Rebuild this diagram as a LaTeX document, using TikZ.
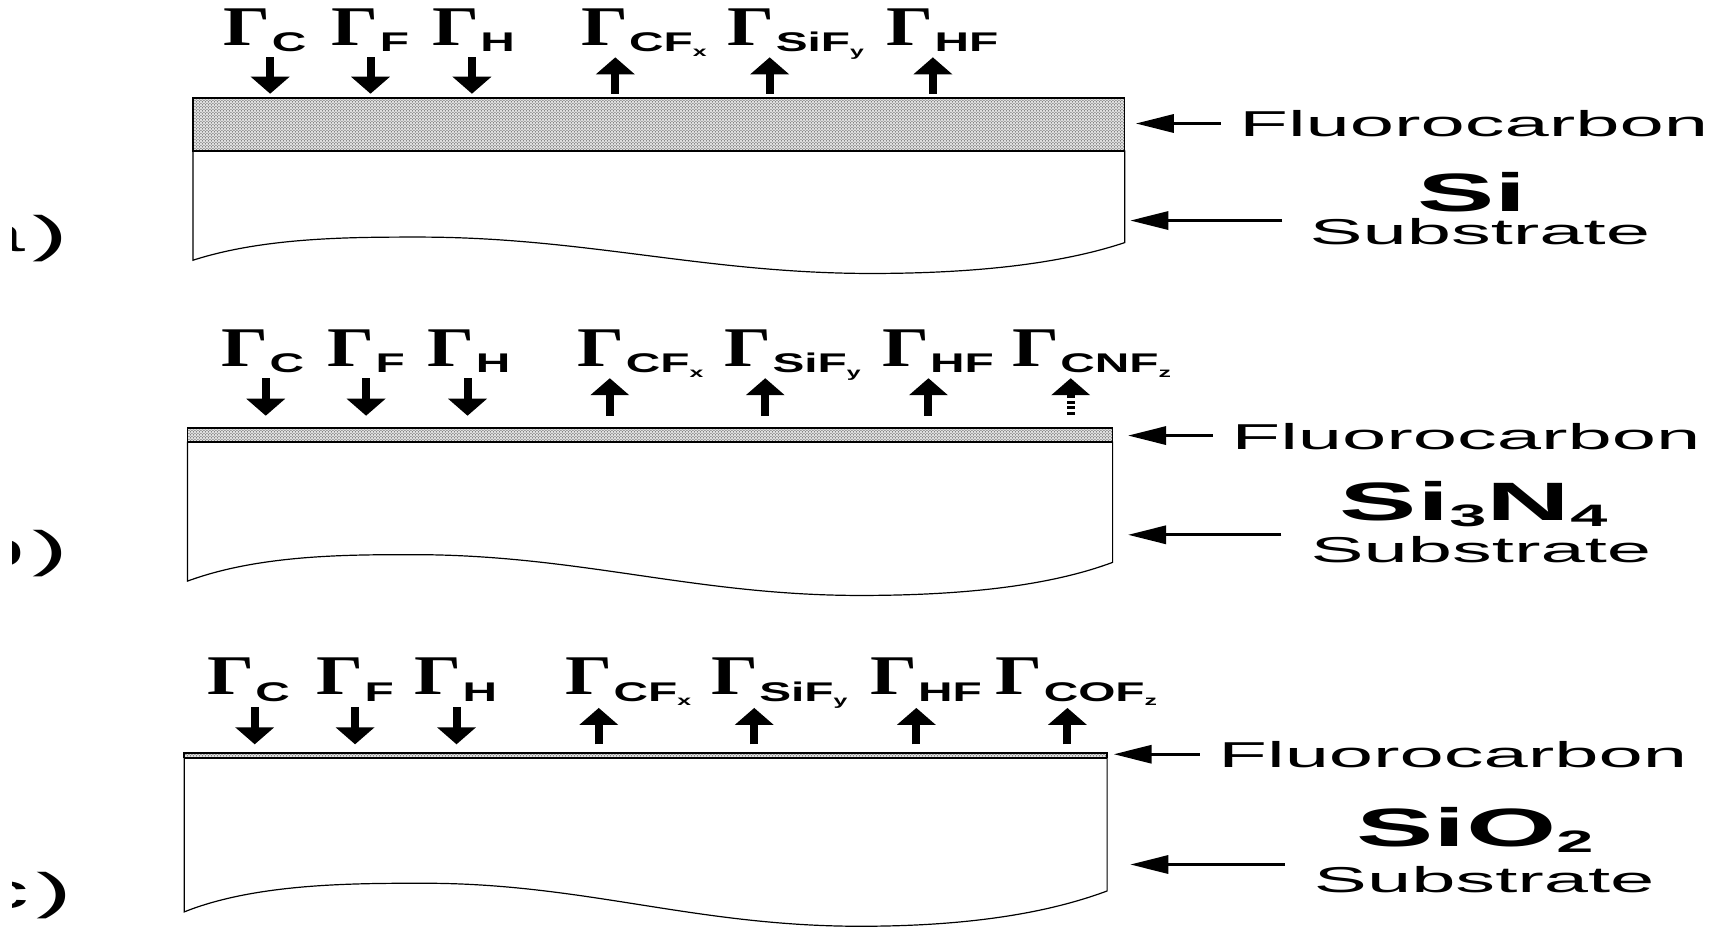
\documentclass[tikz,border=0pt]{standalone}
\usepackage{fontspec}
\setmainfont{Liberation Sans}
\newfontfamily\gamfont{Liberation Serif}
\usetikzlibrary{arrows.meta,patterns}
\newcommand\wide[1]{\scalebox{2.15}[1]{#1}}
\newcommand\fs[1]{\fontsize{#1}{#1}\selectfont}
\newcommand\flux[2]{\scalebox{1.32}[1]{\gamfont\bfseries\fs{56}Γ}\kern1pt\scalebox{1.77}[1]{\bfseries\fs{27}\raisebox{-6.6pt}{#1}\raisebox{-11pt}{\fs{14}#2}}}
\newcommand\plain[1]{\scalebox{2.21}[1]{\fs{36}#1}}
\newcommand\mat[1]{\wide{\bfseries\fs{54}#1}}
\newcommand\low[1]{\raisebox{-6pt}{\fs{31}#1}}
\newcommand\plet[1]{\wide{\fs{50}#1\kern3.4pt)}}
\tikzset{
 lbl/.style={inner sep=0pt,outer sep=0pt,anchor=base west},
 lblc/.style={inner sep=0pt,outer sep=0pt,anchor=base},
 vflux/.style={line width=8pt,-{Triangle[length=17pt,width=38pt]}},
 hflux/.style={line width=3.2pt,-{Triangle[length=38pt,width=18pt]}},
 vdash/.style={vflux,dash pattern=on 3pt off 2.5pt},
 film/.style={draw=black,line width=1.4pt,preaction={fill=black!12},pattern=crosshatch dots,pattern color=black!85},
 body/.style={draw=black,line width=1.2pt,fill=white}
}
\begin{document}
\begin{tikzpicture}[x=1.1027pt,y=-1.1027pt]
\useasboundingbox (0,0) rectangle (1568,842);
% panel letters (cut off at the picture's left side in the reference)
\begin{scope}
\clip (11,150) rectangle (100,842);
\node[inner sep=0pt,anchor=base east] (pa) at (62,228) {\plet{a}};
\node[inner sep=0pt,anchor=base east] (pb) at (62,514) {\plet{b}};
\node[inner sep=0pt,anchor=base east] (pc) at (66,824) {\plet{c}};
\end{scope}
% --- panel a
\path[body] (175,137) -- (175,236) .. controls (240,215) and (320,215) .. (380,215) .. controls (530,215) and (640,248) .. (790,248) .. controls (880,248) and (960,240) .. (1020,220) -- (1020,137) -- cycle;
\path[film] (175,89) rectangle (1020,137);
\node[lbl] (a1) at (203,41) {\flux{C}{}};
\node[lbl] (a2) at (301,41) {\flux{F}{}};
\node[lbl] (a3) at (392,41) {\flux{H}{}};
\node[lbl] (a4) at (527,41) {\flux{CF}{x}};
\node[lbl] (a5) at (660,41) {\flux{SiF}{y}};
\node[lbl] (a6) at (804,41) {\flux{HF}{}};
\foreach \n/\x in {1/245,2/336,3/428}{
 \coordinate (as\n) at (\x,52); \coordinate (ae\n) at (\x,85);
 \draw[vflux] (as\n) -- (ae\n);}
\foreach \n/\x in {4/558,5/698,6/846}{
 \coordinate (as\n) at (\x,85); \coordinate (ae\n) at (\x,52);
 \draw[vflux] (as\n) -- (ae\n);}
\node[lbl] (afl) at (1124,124) {\plain{Fluorocarbon}};
\node[lblc] (am) at (1335,192) {\mat{Si}};
\node[lblc] (asb) at (1342,222) {\plain{Substrate}};
\coordinate (aft) at (1030,112); \coordinate (afs) at (1107,112);
\coordinate (abt) at (1025,200); \coordinate (abs) at (1163,200);
\draw[hflux] (afs) -- (aft);
\draw[hflux] (abs) -- (abt);
% --- panel b
\path[body] (170,401) -- (170,527) .. controls (235,503) and (315,503) .. (375,503) .. controls (525,503) and (630,540) .. (780,540) .. controls (870,540) and (950,532) .. (1009,510) -- (1009,401) -- cycle;
\path[film] (170,388) rectangle (1009,401);
\node[lbl] (b1) at (201,332) {\flux{C}{}};
\node[lbl] (b2) at (297,332) {\flux{F}{}};
\node[lbl] (b3) at (388,332) {\flux{H}{}};
\node[lbl] (b4) at (524,332) {\flux{CF}{x}};
\node[lbl] (b5) at (657,332) {\flux{SiF}{y}};
\node[lbl] (b6) at (800,332) {\flux{HF}{}};
\node[lbl] (b7) at (918,332) {\flux{CNF}{z}};
\foreach \n/\x in {1/241,2/332,3/424}{
 \coordinate (bs\n) at (\x,343); \coordinate (be\n) at (\x,377);
 \draw[vflux] (bs\n) -- (be\n);}
\foreach \n/\x in {4/553,5/694,6/842}{
 \coordinate (bs\n) at (\x,377); \coordinate (be\n) at (\x,343);
 \draw[vflux] (bs\n) -- (be\n);}
\coordinate (bs7) at (971,376); \coordinate (be7) at (971,343);
\draw[vdash] (bs7) -- (be7);
\node[lbl] (bfl) at (1117,408) {\plain{Fluorocarbon}};
\node[lbl] (bm) at (1215,472) {\mat{Si\low{3}N\low{4}}};
\node[lblc] (bsb) at (1343,510) {\plain{Substrate}};
\coordinate (bft) at (1023,395); \coordinate (bfs) at (1100,395);
\coordinate (bbt) at (1023,485); \coordinate (bbs) at (1162,485);
\draw[hflux] (bfs) -- (bft);
\draw[hflux] (bbs) -- (bbt);
% --- panel c
\path[body] (167,687) -- (167,827) .. controls (232,801) and (320,801) .. (385,801) .. controls (530,801) and (630,840) .. (780,840) .. controls (870,840) and (945,830) .. (1004,808) -- (1004,687) -- cycle;
\path[film] (167,683) rectangle (1004,687);
\draw[black,line width=2.2pt] (167,687.5) -- (1004,687.5);
\node[lbl] (c1) at (188,630) {\flux{C}{}};
\node[lbl] (c2) at (287,630) {\flux{F}{}};
\node[lbl] (c3) at (376,630) {\flux{H}{}};
\node[lbl] (c4) at (513,630) {\flux{CF}{x}};
\node[lbl] (c5) at (645,630) {\flux{SiF}{y}};
\node[lbl] (c6) at (789,630) {\flux{HF}{}};
\node[lbl] (c7) at (903,630) {\flux{COF}{z}};
\foreach \n/\x in {1/231,2/322,3/414}{
 \coordinate (cs\n) at (\x,641); \coordinate (ce\n) at (\x,675);
 \draw[vflux] (cs\n) -- (ce\n);}
\foreach \n/\x in {4/543,5/684,6/831,7/968}{
 \coordinate (cs\n) at (\x,675); \coordinate (ce\n) at (\x,642);
 \draw[vflux] (cs\n) -- (ce\n);}
\node[lbl] (cfl) at (1105,696) {\plain{Fluorocarbon}};
\node[lbl] (cm) at (1230,768) {\mat{SiO\low{2}}};
\node[lblc] (csb) at (1346,809) {\plain{Substrate}};
\coordinate (cft) at (1010,684); \coordinate (cfs) at (1088,684);
\coordinate (cbt) at (1025,784); \coordinate (cbs) at (1165,784);
\draw[hflux] (cfs) -- (cft);
\draw[hflux] (cbs) -- (cbt);
\end{tikzpicture}
\end{document}
